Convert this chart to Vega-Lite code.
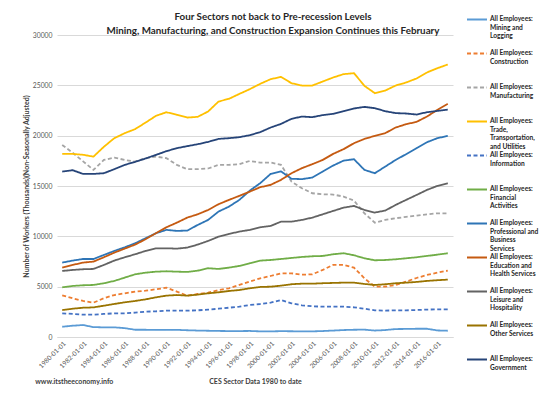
{
  "$schema": "https://vega.github.io/schema/vega-lite/v6.json",
  "width": 396,
  "height": 302,
  "autosize": {"type": "none"},
  "padding": {"left": 57, "top": 35, "right": 94, "bottom": 60},
  "config": {"font": "Lato", "view": {"stroke": null}},
  "title": {
    "text": ["Four Sectors not back to Pre-recession Levels", "Mining, Manufacturing, and Construction Expansion Continues this February"],
    "font": "Lato", "fontSize": 9.8, "fontWeight": "bold", "color": "#262626",
    "anchor": "middle", "frame": "group", "dx": 18, "dy": 23.5, "offset": 4, "lineHeight": 13.5
  },
  "datasets": {
    "emp": [
      {"date":"1980-01-01","Mining":1020,"Construction":4140,"Manufacturing":19080,"Trade":18190,"Information":2350,"Financial":4940,"Professional":7390,"Education":6890,"Leisure":6560,"Other":2680,"Government":16430},
      {"date":"1981-01-01","Mining":1120,"Construction":3850,"Manufacturing":18300,"Trade":18190,"Information":2290,"Financial":5070,"Professional":7590,"Education":7160,"Leisure":6660,"Other":2810,"Government":16570},
      {"date":"1982-01-01","Mining":1190,"Construction":3580,"Manufacturing":17450,"Trade":18100,"Information":2220,"Financial":5140,"Professional":7750,"Education":7390,"Leisure":6730,"Other":2910,"Government":16200},
      {"date":"1983-01-01","Mining":980,"Construction":3410,"Manufacturing":16600,"Trade":17920,"Information":2220,"Financial":5170,"Professional":7750,"Education":7490,"Leisure":6760,"Other":2940,"Government":16200},
      {"date":"1984-01-01","Mining":960,"Construction":3850,"Manufacturing":17590,"Trade":18900,"Information":2290,"Financial":5340,"Professional":8150,"Education":7920,"Leisure":7160,"Other":3110,"Government":16270},
      {"date":"1985-01-01","Mining":960,"Construction":4170,"Manufacturing":17820,"Trade":19750,"Information":2350,"Financial":5570,"Professional":8550,"Education":8380,"Leisure":7590,"Other":3280,"Government":16670},
      {"date":"1986-01-01","Mining":880,"Construction":4340,"Manufacturing":17590,"Trade":20250,"Information":2350,"Financial":5900,"Professional":8910,"Education":8780,"Leisure":7920,"Other":3450,"Government":17100},
      {"date":"1987-01-01","Mining":720,"Construction":4510,"Manufacturing":17420,"Trade":20650,"Information":2420,"Financial":6230,"Professional":9310,"Education":9180,"Leisure":8220,"Other":3580,"Government":17400},
      {"date":"1988-01-01","Mining":720,"Construction":4600,"Manufacturing":17760,"Trade":21300,"Information":2520,"Financial":6390,"Professional":9810,"Education":9710,"Leisure":8550,"Other":3740,"Government":17730},
      {"date":"1989-01-01","Mining":700,"Construction":4740,"Manufacturing":17920,"Trade":21970,"Information":2550,"Financial":6490,"Professional":10310,"Education":10310,"Leisure":8810,"Other":3940,"Government":18090},
      {"date":"1990-01-01","Mining":700,"Construction":4900,"Manufacturing":17760,"Trade":22330,"Information":2620,"Financial":6530,"Professional":10640,"Education":10900,"Leisure":8810,"Other":4110,"Government":18460},
      {"date":"1991-01-01","Mining":710,"Construction":4510,"Manufacturing":17100,"Trade":22070,"Information":2620,"Financial":6490,"Professional":10540,"Education":11360,"Leisure":8780,"Other":4170,"Government":18760},
      {"date":"1992-01-01","Mining":670,"Construction":4110,"Manufacturing":16670,"Trade":21800,"Information":2620,"Financial":6460,"Professional":10570,"Education":11860,"Leisure":8880,"Other":4110,"Government":18960},
      {"date":"1993-01-01","Mining":640,"Construction":4270,"Manufacturing":16670,"Trade":21870,"Information":2650,"Financial":6590,"Professional":11130,"Education":12190,"Leisure":9180,"Other":4210,"Government":19150},
      {"date":"1994-01-01","Mining":620,"Construction":4400,"Manufacturing":16740,"Trade":22400,"Information":2720,"Financial":6830,"Professional":11630,"Education":12620,"Leisure":9540,"Other":4340,"Government":19380},
      {"date":"1995-01-01","Mining":600,"Construction":4670,"Manufacturing":17100,"Trade":23390,"Information":2810,"Financial":6760,"Professional":12460,"Education":13190,"Leisure":9970,"Other":4440,"Government":19680},
      {"date":"1996-01-01","Mining":590,"Construction":4840,"Manufacturing":17100,"Trade":23660,"Information":2910,"Financial":6890,"Professional":12950,"Education":13620,"Leisure":10240,"Other":4570,"Government":19750},
      {"date":"1997-01-01","Mining":590,"Construction":5170,"Manufacturing":17170,"Trade":24150,"Information":3010,"Financial":7060,"Professional":13620,"Education":14020,"Leisure":10470,"Other":4670,"Government":19850},
      {"date":"1998-01-01","Mining":600,"Construction":5500,"Manufacturing":17490,"Trade":24620,"Information":3180,"Financial":7330,"Professional":14540,"Education":14440,"Leisure":10640,"Other":4840,"Government":20050},
      {"date":"1999-01-01","Mining":560,"Construction":5830,"Manufacturing":17330,"Trade":25150,"Information":3280,"Financial":7590,"Professional":15280,"Education":14880,"Leisure":10900,"Other":4970,"Government":20350},
      {"date":"2000-01-01","Mining":560,"Construction":6060,"Manufacturing":17330,"Trade":25610,"Information":3410,"Financial":7650,"Professional":16200,"Education":15110,"Leisure":11030,"Other":5000,"Government":20810},
      {"date":"2001-01-01","Mining":580,"Construction":6330,"Manufacturing":17100,"Trade":25840,"Information":3680,"Financial":7750,"Professional":16450,"Education":15610,"Leisure":11460,"Other":5100,"Government":21170},
      {"date":"2002-01-01","Mining":570,"Construction":6330,"Manufacturing":15440,"Trade":25210,"Information":3350,"Financial":7850,"Professional":15720,"Education":16270,"Leisure":11460,"Other":5240,"Government":21670},
      {"date":"2003-01-01","Mining":560,"Construction":6190,"Manufacturing":14780,"Trade":24980,"Information":3150,"Financial":7950,"Professional":15680,"Education":16770,"Leisure":11630,"Other":5300,"Government":21900},
      {"date":"2004-01-01","Mining":560,"Construction":6230,"Manufacturing":14280,"Trade":24980,"Information":3050,"Financial":8020,"Professional":15840,"Education":17170,"Leisure":11860,"Other":5300,"Government":21840},
      {"date":"2005-01-01","Mining":590,"Construction":6660,"Manufacturing":14180,"Trade":25380,"Information":3010,"Financial":8050,"Professional":16430,"Education":17590,"Leisure":12190,"Other":5340,"Government":22040},
      {"date":"2006-01-01","Mining":640,"Construction":7160,"Manufacturing":14150,"Trade":25780,"Information":3010,"Financial":8220,"Professional":17030,"Education":18190,"Leisure":12520,"Other":5370,"Government":22170},
      {"date":"2007-01-01","Mining":690,"Construction":7160,"Manufacturing":13950,"Trade":26110,"Information":3010,"Financial":8320,"Professional":17520,"Education":18660,"Leisure":12850,"Other":5400,"Government":22430},
      {"date":"2008-01-01","Mining":720,"Construction":6890,"Manufacturing":13550,"Trade":26210,"Information":2950,"Financial":8120,"Professional":17660,"Education":19250,"Leisure":13020,"Other":5400,"Government":22700},
      {"date":"2009-01-01","Mining":730,"Construction":5830,"Manufacturing":12290,"Trade":24950,"Information":2810,"Financial":7820,"Professional":16600,"Education":19680,"Leisure":12620,"Other":5270,"Government":22860},
      {"date":"2010-01-01","Mining":640,"Construction":5000,"Manufacturing":11360,"Trade":24220,"Information":2650,"Financial":7620,"Professional":16270,"Education":19980,"Leisure":12360,"Other":5170,"Government":22730},
      {"date":"2011-01-01","Mining":690,"Construction":5000,"Manufacturing":11630,"Trade":24480,"Information":2620,"Financial":7650,"Professional":16930,"Education":20250,"Leisure":12560,"Other":5240,"Government":22430},
      {"date":"2012-01-01","Mining":790,"Construction":5170,"Manufacturing":11800,"Trade":24980,"Information":2650,"Financial":7720,"Professional":17590,"Education":20810,"Leisure":13120,"Other":5340,"Government":22240},
      {"date":"2013-01-01","Mining":800,"Construction":5500,"Manufacturing":11930,"Trade":25280,"Information":2650,"Financial":7820,"Professional":18160,"Education":21140,"Leisure":13620,"Other":5400,"Government":22200},
      {"date":"2014-01-01","Mining":820,"Construction":5860,"Manufacturing":12060,"Trade":25680,"Information":2680,"Financial":7920,"Professional":18760,"Education":21370,"Leisure":14110,"Other":5470,"Government":22100},
      {"date":"2015-01-01","Mining":820,"Construction":6160,"Manufacturing":12190,"Trade":26280,"Information":2720,"Financial":8050,"Professional":19350,"Education":21900,"Leisure":14610,"Other":5570,"Government":22330},
      {"date":"2016-01-01","Mining":650,"Construction":6390,"Manufacturing":12290,"Trade":26700,"Information":2750,"Financial":8180,"Professional":19750,"Education":22560,"Leisure":15010,"Other":5640,"Government":22460},
      {"date":"2017-01-01","Mining":620,"Construction":6590,"Manufacturing":12290,"Trade":27070,"Information":2750,"Financial":8320,"Professional":19980,"Education":23160,"Leisure":15280,"Other":5700,"Government":22590}
    ],
    "note": [{"t": "www.itstheeconomy.info"}]
  },
  "layer": [
    {
      "data": {"name": "emp"},
      "transform": [
        {"fold": ["Mining","Construction","Manufacturing","Trade","Information","Financial","Professional","Education","Leisure","Other","Government"], "as": ["series","value"]}
      ],
      "mark": {"type": "line", "strokeWidth": 1.8},
      "encoding": {
        "x": {
          "field": "date", "type": "ordinal",
          "scale": {"type": "point", "padding": 0.5},
          "axis": {
            "values": ["1980-01-01","1982-01-01","1984-01-01","1986-01-01","1988-01-01","1990-01-01","1992-01-01","1994-01-01","1996-01-01","1998-01-01","2000-01-01","2002-01-01","2004-01-01","2006-01-01","2008-01-01","2010-01-01","2012-01-01","2014-01-01","2016-01-01"],
            "labelAngle": -45, "labelFontSize": 6.5, "labelColor": "#595959", "labelPadding": 3,
            "ticks": false, "domainColor": "#D9D9D9", "domainWidth": 1,
            "title": "CES Sector Data 1980 to date", "titleFontSize": 7, "titleFontWeight": "bold", "titleColor": "#404040", "titlePadding": 8
          }
        },
        "y": {
          "field": "value", "type": "quantitative",
          "scale": {"domain": [0, 30000], "nice": false},
          "axis": {
            "values": [0,5000,10000,15000,20000,25000,30000],
            "format": "d", "labelFontSize": 6.8, "labelColor": "#595959", "labelPadding": 5,
            "ticks": false, "domain": false, "gridColor": "#D9D9D9", "gridWidth": 1,
            "title": "Number of Workers (Thousands)(Non-Seasonally Adjusted)", "titleFontSize": 7, "titleFontWeight": "bold", "titleColor": "#404040", "titlePadding": 3
          }
        },
        "color": {
          "field": "series", "type": "nominal",
          "scale": {
            "domain": ["Mining","Construction","Manufacturing","Trade","Information","Financial","Professional","Education","Leisure","Other","Government"],
            "range": ["#5B9BD5","#ED7D31","#A5A5A5","#FFC000","#4472C4","#70AD47","#2E75B6","#C55A11","#636363","#997300","#264478"]
          },
          "legend": {
            "title": null, "orient": "none", "legendX": 409, "legendY": -19,
            "symbolType": "stroke", "symbolSize": 400, "symbolStrokeWidth": 2,
            "labelFont": "Lato", "labelFontSize": 6.6, "labelFontWeight": "bold", "labelColor": "#262626",
            "labelLineHeight": 8.0, "labelBaseline": "top", "labelOffset": 2, "labelLimit": 0,
            "gridAlign": "all", "rowPadding": 0,
            "labelExpr": "datum.label == 'Mining' ? ['All Employees:', 'Mining and', 'Logging'] : datum.label == 'Construction' ? ['All Employees:', 'Construction'] : datum.label == 'Manufacturing' ? ['All Employees:', 'Manufacturing'] : datum.label == 'Trade' ? ['All Employees:', 'Trade,', 'Transportation,', 'and Utilities'] : datum.label == 'Information' ? ['All Employees:', 'Information'] : datum.label == 'Financial' ? ['All Employees:', 'Financial', 'Activities'] : datum.label == 'Professional' ? ['All Employees:', 'Professional and', 'Business', 'Services'] : datum.label == 'Education' ? ['All Employees:', 'Education and', 'Health Services'] : datum.label == 'Leisure' ? ['All Employees:', 'Leisure and', 'Hospitality'] : datum.label == 'Other' ? ['All Employees:', 'Other Services'] : ['All Employees:', 'Government']",
            "encode": {
              "labels": {"update": {"y": {"value": 0}}},
              "symbols": {"update": {"y": {"value": 3.5}}}
            }
          }
        },
        "strokeDash": {
          "field": "series", "type": "nominal",
          "scale": {
            "domain": ["Mining","Construction","Manufacturing","Trade","Information","Financial","Professional","Education","Leisure","Other","Government"],
            "range": [[1,0],[4,2.5],[4,2.5],[1,0],[4,2.5],[1,0],[1,0],[1,0],[1,0],[1,0],[1,0]]
          }
        }
      }
    },
    {
      "data": {"name": "note"},
      "mark": {"type": "text", "align": "left", "baseline": "middle", "dx": -27, "dy": 45, "fontSize": 7, "fontWeight": "bold", "color": "#404040"},
      "encoding": {
        "x": {"datum": "1980-01-01", "type": "ordinal"},
        "y": {"datum": 0, "type": "quantitative"},
        "text": {"field": "t"}
      }
    }
  ]
}
